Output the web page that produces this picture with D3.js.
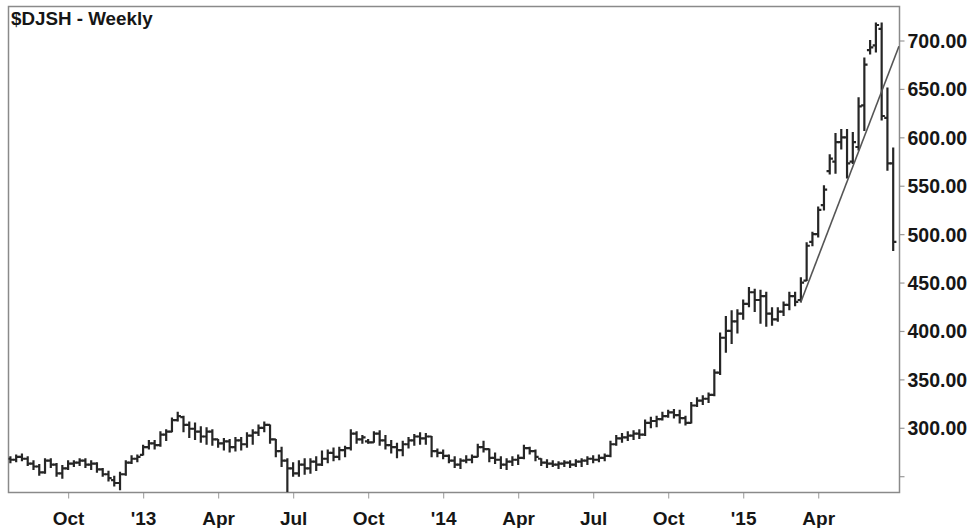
<!DOCTYPE html>
<html><head><meta charset="utf-8">
<script src="https://cdn.jsdelivr.net/npm/d3@7"></script>
<style>
body{margin:0;background:#fff}
svg{display:block}
text{font-family:"Liberation Sans",Arial,Helvetica,sans-serif;font-weight:bold;fill:#161616}
</style>
</head><body>
<svg id="c" width="973" height="528"></svg>
<script>
// Weekly bars (Fridays) from 27 Jul 2012 to 3 Jul 2015
const startDate = new Date(2012, 6, 27);
const endDate = new Date(2015, 6, 4);
const title = "$DJSH - Weekly";
const yTicks = [250, 300, 350, 400, 450, 500, 550, 600, 650, 700];
const monthLabels = {3: "Apr", 6: "Jul", 9: "Oct"};

const open = [
268,267,270,268,263,260,254,266,262,253,
258,263,264,266,262,263,257,252,246,243,
252,264,268,272,280,284,282,293,296,308,
311,303,299,296,291,296,288,284,286,280,
287,283,292,295,300,303,288,276,266,258,
253,262,258,265,262,268,274,270,277,279,
294,288,286,285,294,287,282,280,277,283,
287,291,289,291,276,274,271,266,262,266,
267,270,280,278,269,267,262,265,267,269,
279,276,268,264,263,262,263,264,262,265,
266,268,267,269,271,283,289,290,292,294,
293,305,307,309,312,316,313,310,305,323,
328,330,334,357,393,400,410,418,428,440,
432,436,418,412,420,427,436,432,452,492,
500,530,565,575,595,600,575,590,633,690,
695,712,620,573
];
const high = [
270,272,273,270,266,262,268,268,263,261,
266,266,268,268,266,264,258,255,250,254,
266,271,272,282,287,287,296,298,310,316,
312,306,305,301,300,298,288,289,288,290,
290,295,298,303,306,303,288,280,268,264,
266,268,268,270,276,277,279,280,281,298,
296,292,288,296,297,292,287,284,286,290,
293,295,294,291,278,277,272,270,268,271,
272,283,286,278,274,270,268,270,272,282,
280,277,268,267,266,265,266,266,267,268,
270,271,272,273,286,292,294,296,297,298,
308,311,312,316,318,319,318,312,326,331,
333,336,360,398,415,421,422,432,445,443,
442,440,424,424,430,440,440,455,491,502,
528,550,582,604,608,608,605,641,682,700,
718,718,651,589
];
const low = [
264,265,266,261,257,251,253,259,250,248,
257,260,261,259,257,254,250,245,240,236,
251,263,265,272,278,278,281,287,296,307,
296,290,288,285,283,282,280,277,275,276,
277,280,283,292,296,284,270,260,234,250,
250,252,253,256,261,264,266,267,270,277,
284,284,284,285,282,278,274,269,271,279,
282,283,283,270,270,268,264,259,258,264,
264,270,275,265,263,258,257,261,262,268,
273,266,261,259,260,258,260,259,260,260,
262,264,265,266,270,282,285,287,288,289,
292,300,301,308,311,310,305,303,305,322,
324,326,333,355,378,387,398,412,425,420,
408,405,406,410,416,422,426,430,452,488,
497,525,562,563,588,558,573,587,607,686,
688,618,566,483
];
const close = [
267,270,268,263,260,254,266,262,253,258,
263,264,266,262,263,257,252,248,243,252,
264,268,270,280,284,282,293,296,308,312,
303,299,296,291,296,288,284,286,280,287,
283,292,295,300,303,288,276,266,258,253,
262,258,265,262,268,274,270,277,279,294,
288,290,285,294,287,282,280,277,283,287,
291,289,291,276,274,271,266,262,266,267,
270,280,278,269,267,262,265,267,269,279,
276,270,264,263,262,263,264,262,265,266,
268,267,269,271,283,289,290,292,294,293,
305,307,309,312,316,313,310,305,323,328,
330,334,357,393,400,410,418,428,440,432,
436,418,412,420,427,436,430,450,488,500,
525,546,578,595,600,573,595,632,675,693,
716,622,573,492
];
// Trend line: from the March 2015 low out to the right edge
const trendIdx = [137, 154];
const trendVal = [430, 694];

const dates = d3.timeFriday.range(startDate, endDate);
const bars = dates.map((d, i) => ({d, i, o: open[i], h: high[i], l: low[i], c: close[i]}));

const svg = d3.select("#c");
const L = 8.5, R = 899.5, T = 6.5, B = 492.5;

const x = d3.scaleLinear().domain([0, dates.length - 1]).range([10.4, 893.2]);
const y = d3.scaleLinear().domain([250, 700]).range([476.2, 40.5]);

svg.append("rect").attr("x", 0).attr("y", 0).attr("width", 973).attr("height", 528).attr("fill", "#fff");

svg.append("defs").append("clipPath").attr("id", "clip")
  .append("rect").attr("x", L).attr("y", T).attr("width", R - L).attr("height", B - T);

// axes
const tickIdx = [];
dates.forEach((d, i) => {
  if (i > 0 && d.getMonth() !== dates[i - 1].getMonth() && d.getMonth() % 3 === 0 && x(i) < R - 20) tickIdx.push(i);
});
const fmtX = i => {
  const d = dates[i];
  return d.getMonth() === 0 ? "'" + String(d.getFullYear()).slice(2) : monthLabels[d.getMonth()];
};

const gx = svg.append("g").attr("transform", `translate(0,${B})`)
  .call(d3.axisBottom(x).tickValues(tickIdx).tickSize(6).tickFormat(fmtX));
gx.select(".domain").remove();
gx.selectAll(".tick line").attr("stroke", "#aaa").attr("stroke-width", 1.2);
gx.selectAll(".tick text").attr("y", 32).attr("dy", 0).style("font-size", "19px").attr("fill", "#161616");

const gy = svg.append("g").attr("transform", `translate(${R},0)`)
  .call(d3.axisRight(y).tickValues(yTicks).tickSize(5)
    .tickFormat(v => v === yTicks[0] ? "" : d3.format(".2f")(v)));
gy.select(".domain").remove();
gy.selectAll(".tick line").attr("stroke", "#999").attr("stroke-width", 1.2);
gy.selectAll(".tick text").attr("x", 8).attr("dy", "0.36em").style("font-size", "19.5px").attr("fill", "#161616");

// frame
svg.append("rect").attr("x", L).attr("y", T).attr("width", R - L).attr("height", B - T)
  .attr("fill", "none").attr("stroke", "#8a8a8a").attr("stroke-width", 1.5);

// OHLC bars
const g = svg.append("g").attr("clip-path", "url(#clip)")
  .attr("stroke", "#262626").attr("stroke-width", 2.2).attr("fill", "none");
const bg = g.selectAll("g.bar").data(bars).join("g").attr("class", "bar");
bg.append("line").attr("x1", b => x(b.i)).attr("x2", b => x(b.i))
  .attr("y1", b => y(b.h) - 0.5).attr("y2", b => y(b.l) + 0.5);
bg.append("line").attr("x1", b => x(b.i) - 3.2).attr("x2", b => x(b.i))
  .attr("y1", b => y(b.o)).attr("y2", b => y(b.o));
bg.append("line").attr("x1", b => x(b.i)).attr("x2", b => x(b.i) + 3.2)
  .attr("y1", b => y(b.c)).attr("y2", b => y(b.c));

// trend line
svg.append("line").attr("clip-path", "url(#clip)")
  .attr("x1", x(trendIdx[0])).attr("y1", y(trendVal[0]))
  .attr("x2", x(trendIdx[1])).attr("y2", y(trendVal[1]))
  .attr("stroke", "#555").attr("stroke-width", 1.6);

// title
svg.append("text").attr("x", 11).attr("y", 24.5).style("font-size", "18.8px").text(title);
</script>
</body></html>
